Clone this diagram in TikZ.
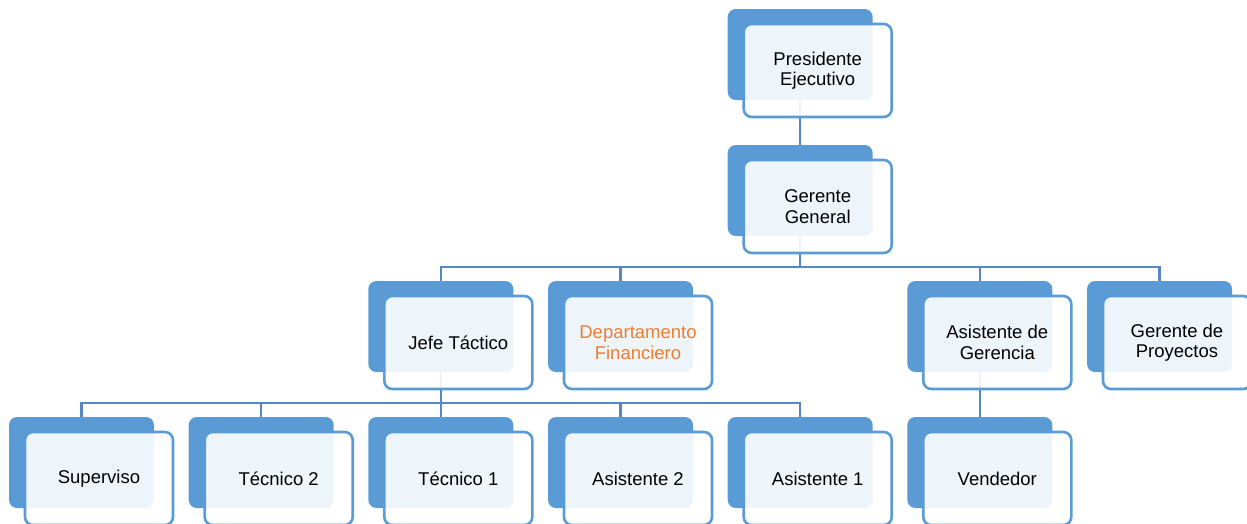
\documentclass[tikz,border=0pt]{standalone}
\usepackage{fontspec}
\setmainfont{Liberation Sans}
\usepackage{xcolor}
\usetikzlibrary{calc}
\definecolor{cajaazul}{RGB}{91,155,213}
\definecolor{lineaazul}{RGB}{84,135,196}
\definecolor{naranja}{RGB}{237,125,49}

\begin{document}
\begin{tikzpicture}[x=1pt, y=-1pt,
  fondo/.style={fill=cajaazul, rounded corners=8pt, minimum width=145pt, minimum height=91pt, inner sep=0pt},
  frente/.style={draw=cajaazul, line width=2.6pt, fill=white, fill opacity=0.9, text opacity=1,
    rounded corners=8pt, minimum width=148pt, minimum height=93pt, inner sep=0pt,
    align=center, font=\fontsize{18.5}{20.5}\selectfont},
  conector/.style={draw=lineaazul, line width=2.4pt}]
  \useasboundingbox (0,0) rectangle (1247,523);

  % cajas de fondo
  \node[fondo] (pres) at (800.2, 54.5) {};
  \node[fondo] (gg) at (800.2, 190.5) {};
  \node[fondo] (jefe) at (440.8, 326.5) {};
  \node[fondo] (depto) at (620.5, 326.5) {};
  \node[fondo] (asisg) at (979.8, 326.5) {};
  \node[fondo] (gproy) at (1159.5, 326.5) {};
  \node[fondo] (superv) at (81.5, 462.5) {};
  \node[fondo] (tec2) at (261.2, 462.5) {};
  \node[fondo] (tec1) at (440.8, 462.5) {};
  \node[fondo] (asis2) at (620.5, 462.5) {};
  \node[fondo] (asis1) at (800.2, 462.5) {};
  \node[fondo] (vend) at (979.8, 462.5) {};

  % conectores
  \draw[conector] (pres.south) -- (gg.north);
  \draw[conector] (gg.south) -- ++(0,31) -| (jefe.north);
  \draw[conector] (gg.south) -- ++(0,31) -| (depto.north);
  \draw[conector] (gg.south) -- ++(0,31) -| (asisg.north);
  \draw[conector] (gg.south) -- ++(0,31) -| (gproy.north);
  \draw[conector] (jefe.south) -- ++(0,31) -| (superv.north);
  \draw[conector] (jefe.south) -- ++(0,31) -| (tec2.north);
  \draw[conector] (jefe.south) -- (tec1.north);
  \draw[conector] (jefe.south) -- ++(0,31) -| (asis2.north);
  \draw[conector] (jefe.south) -- ++(0,31) -| (asis1.north);
  \draw[conector] (asisg.south) -- (vend.north);

  % cajas de frente con texto
  \node[frente] (pres-f) at ($(pres.center)+(17.5,16)$) {Presidente\\Ejecutivo};
  \node[frente] (gg-f) at ($(gg.center)+(17.5,16)$) {Gerente\\General};
  \node[frente] (jefe-f) at ($(jefe.center)+(17.5,16)$) {Jefe Táctico};
  \node[frente, text=naranja] (depto-f) at ($(depto.center)+(17.5,16)$) {Departamento\\Financiero};
  \node[frente] (asisg-f) at ($(asisg.center)+(17.5,16)$) {Asistente de\\Gerencia};
  \node[frente] (gproy-f) at ($(gproy.center)+(17.5,16)$) {Gerente de\\Proyectos};
  \node[frente] (superv-f) at ($(superv.center)+(17.5,16)$) {Superviso};
  \node[frente] (tec2-f) at ($(tec2.center)+(17.5,16)$) {Técnico 2};
  \node[frente] (tec1-f) at ($(tec1.center)+(17.5,16)$) {Técnico 1};
  \node[frente] (asis2-f) at ($(asis2.center)+(17.5,16)$) {Asistente 2};
  \node[frente] (asis1-f) at ($(asis1.center)+(17.5,16)$) {Asistente 1};
  \node[frente] (vend-f) at ($(vend.center)+(17.5,16)$) {Vendedor};
\end{tikzpicture}
\end{document}
